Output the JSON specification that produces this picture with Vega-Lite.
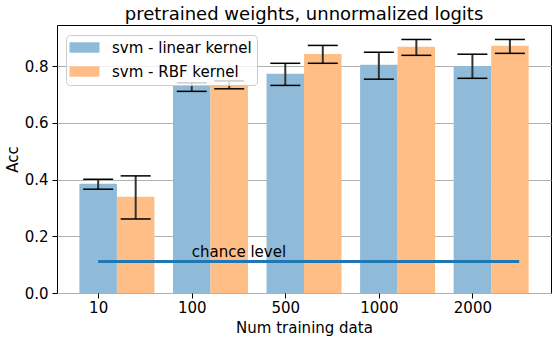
{
  "$schema": "https://vega.github.io/schema/vega-lite/v6.json",
  "width": 494,
  "height": 268,
  "autosize": "none",
  "padding": {"left": 57, "top": 25, "right": 7, "bottom": 48},
  "background": "white",
  "title": {"text": "pretrained weights, unnormalized logits", "fontSize": 18, "font": "DejaVu Sans", "fontWeight": "normal", "color": "#000", "offset": 1, "anchor": "middle", "frame": "group"},
  "config": {
    "view": {"stroke": "#000", "strokeWidth": 1},
    "font": "DejaVu Sans",
    "axis": {"labelFont": "DejaVu Sans", "titleFont": "DejaVu Sans", "labelFontSize": 15, "titleFontSize": 15, "labelColor": "#000", "titleColor": "#000", "titleFontWeight": "normal", "tickColor": "#000", "tickSize": 5, "domain": false}
  },
  "datasets": {
    "results": [
      {"n": "10", "idx": 0, "kernel": "svm - linear kernel", "acc": 0.385, "lo": 0.366, "hi": 0.401},
      {"n": "10", "idx": 0, "kernel": "svm - RBF kernel", "acc": 0.339, "lo": 0.261, "hi": 0.413},
      {"n": "100", "idx": 1, "kernel": "svm - linear kernel", "acc": 0.731, "lo": 0.711, "hi": 0.741},
      {"n": "100", "idx": 1, "kernel": "svm - RBF kernel", "acc": 0.735, "lo": 0.720, "hi": 0.748},
      {"n": "500", "idx": 2, "kernel": "svm - linear kernel", "acc": 0.773, "lo": 0.732, "hi": 0.810},
      {"n": "500", "idx": 2, "kernel": "svm - RBF kernel", "acc": 0.843, "lo": 0.810, "hi": 0.873},
      {"n": "1000", "idx": 3, "kernel": "svm - linear kernel", "acc": 0.805, "lo": 0.754, "hi": 0.849},
      {"n": "1000", "idx": 3, "kernel": "svm - RBF kernel", "acc": 0.868, "lo": 0.838, "hi": 0.894},
      {"n": "2000", "idx": 4, "kernel": "svm - linear kernel", "acc": 0.800, "lo": 0.757, "hi": 0.842},
      {"n": "2000", "idx": 4, "kernel": "svm - RBF kernel", "acc": 0.872, "lo": 0.845, "hi": 0.894}
    ],
    "chance": [
      {"start": 0, "end": 4.5, "level": 0.111, "label": "chance level", "labelAt": 1}
    ]
  },
  "encoding": {
    "x": {"field": "idx", "type": "quantitative", "scale": {"domain": [-0.44, 4.84], "nice": false, "zero": false, "padding": 0},
          "axis": {"values": [0, 1, 2, 3, 4], "labelExpr": "['10','100','500','1000','2000'][datum.value]", "title": "Num training data", "grid": false, "labelPadding": 2, "titlePadding": 5}}
  },
  "layer": [
    {
      "data": {"name": "results"},
      "transform": [{"filter": "datum.kernel == 'svm - linear kernel'"}],
      "layer": [
        {
          "mark": {"type": "bar", "size": 37.5},
          "encoding": {
            "y": {"field": "acc", "type": "quantitative", "stack": null, "scale": {"domain": [0, 0.945], "nice": false, "padding": 0},
                  "axis": {"values": [0, 0.2, 0.4, 0.6, 0.8], "format": ".1f", "title": "Acc", "grid": true, "gridColor": "#b0b0b0", "gridWidth": 1, "labelPadding": 4, "titlePadding": 4}},
            "color": {"field": "kernel", "type": "nominal",
                      "scale": {"domain": ["svm - linear kernel", "svm - RBF kernel"], "range": ["#8fbbd9", "#ffbe86"]},
                      "legend": {"orient": "none", "legendX": 9, "legendY": 10, "title": null, "labelFontSize": 15, "labelFont": "DejaVu Sans", "labelColor": "#000", "labelLimit": 300,
                                 "symbolType": "M-2.5,-0.875H2.5V0.875H-2.5Z", "symbolSize": 144, "symbolStrokeWidth": 0, "symbolOpacity": 1, "symbolOffset": 6,
                                 "fillColor": "rgba(255,255,255,0.8)", "strokeColor": "#cccccc", "cornerRadius": 4, "padding": 5, "rowPadding": 8, "labelOffset": 20}}
          }
        },
        {
          "mark": {"type": "rule", "color": "#333", "strokeWidth": 2},
          "encoding": {"y": {"field": "lo", "type": "quantitative"}, "y2": {"field": "hi"}}
        },
        {
          "mark": {"type": "tick", "orient": "horizontal", "size": 30, "thickness": 1.5, "color": "#000", "opacity": 1},
          "encoding": {"y": {"field": "lo", "type": "quantitative"}}
        },
        {
          "mark": {"type": "tick", "orient": "horizontal", "size": 30, "thickness": 1.5, "color": "#000", "opacity": 1},
          "encoding": {"y": {"field": "hi", "type": "quantitative"}}
        }
      ]
    },
    {
      "data": {"name": "results"},
      "transform": [{"filter": "datum.kernel == 'svm - RBF kernel'"}],
      "layer": [
        {
          "mark": {"type": "bar", "size": 37.5, "xOffset": 37.5},
          "encoding": {
            "y": {"field": "acc", "type": "quantitative", "stack": null},
            "color": {"field": "kernel", "type": "nominal"}
          }
        },
        {
          "mark": {"type": "rule", "color": "#333", "strokeWidth": 2, "xOffset": 37.5},
          "encoding": {"y": {"field": "lo", "type": "quantitative"}, "y2": {"field": "hi"}}
        },
        {
          "mark": {"type": "tick", "orient": "horizontal", "size": 30, "thickness": 1.5, "color": "#000", "opacity": 1, "xOffset": 37.5},
          "encoding": {"y": {"field": "lo", "type": "quantitative"}}
        },
        {
          "mark": {"type": "tick", "orient": "horizontal", "size": 30, "thickness": 1.5, "color": "#000", "opacity": 1, "xOffset": 37.5},
          "encoding": {"y": {"field": "hi", "type": "quantitative"}}
        }
      ]
    },
    {
      "data": {"name": "chance"},
      "mark": {"type": "rule", "color": "#1f77b4", "strokeWidth": 3},
      "encoding": {
        "x": {"field": "start", "type": "quantitative"},
        "x2": {"field": "end"},
        "y": {"field": "level", "type": "quantitative"}
      }
    },
    {
      "data": {"name": "chance"},
      "mark": {"type": "text", "align": "left", "baseline": "alphabetic", "dy": -4.6, "fontSize": 15, "font": "DejaVu Sans", "color": "#000"},
      "encoding": {
        "x": {"field": "labelAt", "type": "quantitative"},
        "y": {"field": "level", "type": "quantitative"},
        "text": {"field": "label"}
      }
    }
  ]
}
